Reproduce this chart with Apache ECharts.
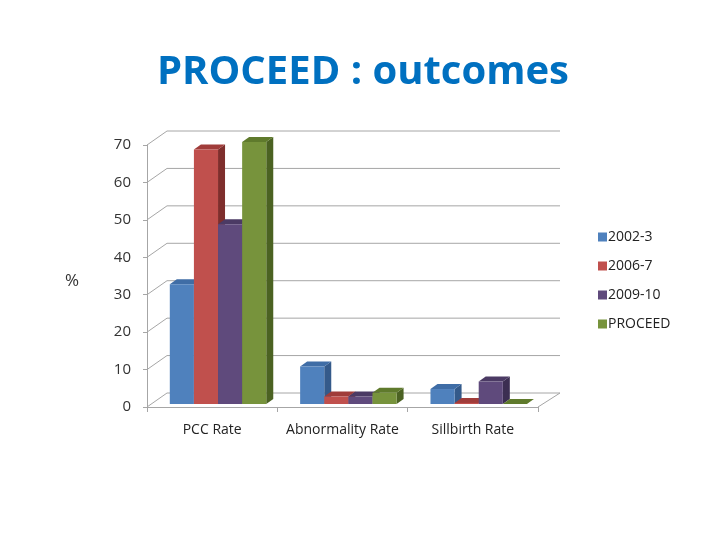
<!DOCTYPE html>
<html>
<head>
<meta charset="utf-8">
<script src="https://cdn.jsdelivr.net/npm/echarts@6/dist/echarts.min.js"></script>
<style>
  html, body { margin: 0; padding: 0; background: #fff; }
  #chart { width: 720px; height: 540px; }
</style>
</head>
<body>
<div id="chart"></div>
<script>
var categories = ['PCC Rate', 'Abnormality Rate', 'Sillbirth Rate'];
var seriesNames = ['2002-3', '2006-7', '2009-10', 'PROCEED'];
var rate2002 = [32, 10, 4];
var rate2006 = [68, 2, 0.3];
var rate2009 = [48, 2, 6];
var rateProceed = [70, 3, 0];
var yTicks = [0, 10, 20, 30, 40, 50, 60, 70];

var frontColors = ['#4F81BD', '#C0504D', '#5F4A7C', '#77933C'];
var topColors = ['#3F6DA6', '#A03C3A', '#4B3A64', '#5F7A2C'];
var sideColors = ['#345A8A', '#7E2E2C', '#3C2E52', '#4B6222'];

// depth of the back wall and of a bar
var wallDx = 20, wallDy = 14;
var barDx = 7, barDy = 5;
var barLift = 3;

var chart = echarts.init(document.getElementById('chart'));

function wallItem(params, api) {
    var cs = params.coordSys;
    var y = api.coord([0, api.value(0)])[1];
    var left = cs.x, right = cs.x + cs.width;
    return {
        type: 'polyline',
        shape: { points: [[left, y], [left + wallDx, y - wallDy], [right + wallDx + 2, y - wallDy]] },
        style: { stroke: '#a6a6a6', lineWidth: 1, fill: null },
        silent: true
    };
}

function floorItem(params, api) {
    var cs = params.coordSys;
    var y = api.coord([0, 0])[1];
    var right = cs.x + cs.width;
    return {
        type: 'line',
        shape: { x1: right, y1: y, x2: right + wallDx + 2, y2: y - wallDy },
        style: { stroke: '#a6a6a6', lineWidth: 1 },
        silent: true
    };
}

function makeBarRender(idx) {
    return function (params, api) {
        var cat = api.value(0);
        var val = api.value(1);
        var top = api.coord([cat, val]);
        var base = api.coord([cat, 0]);
        var band = api.size([1, 0])[0];
        var bw = band * 0.185;
        var x = top[0] - 2 * bw + idx * bw + band * 0.045;
        var yt = top[1] - barLift, yb = base[1] - barLift;
        return {
            type: 'group',
            children: [
                {
                    type: 'polygon',
                    shape: { points: [[x + bw, yt], [x + bw + barDx, yt - barDy], [x + bw + barDx, yb - barDy], [x + bw, yb]] },
                    style: { fill: sideColors[idx] }
                },
                {
                    type: 'polygon',
                    shape: { points: [[x, yt], [x + barDx, yt - barDy], [x + bw + barDx, yt - barDy], [x + bw, yt]] },
                    style: { fill: topColors[idx] }
                },
                {
                    type: 'rect',
                    shape: { x: x, y: yt, width: bw, height: yb - yt },
                    style: { fill: frontColors[idx] }
                }
            ]
        };
    };
}

var allValues = [rate2002, rate2006, rate2009, rateProceed];
var series = [
    {
        type: 'custom',
        name: 'wall',
        renderItem: wallItem,
        data: yTicks.map(function (v) { return [v]; }),
        encode: { y: 0 },
        z: 1,
        silent: true
    },
    {
        type: 'custom',
        name: 'floor',
        renderItem: floorItem,
        data: [[0]],
        z: 1,
        silent: true
    }
];
seriesNames.forEach(function (name, i) {
    series.push({
        type: 'custom',
        name: name,
        renderItem: makeBarRender(i),
        itemStyle: { color: frontColors[i] },
        data: allValues[i].map(function (v, k) { return [k, v]; }),
        encode: { x: 0, y: 1 },
        z: 5
    });
});

var option = {
    backgroundColor: '#ffffff',
    animation: false,
    title: {
        text: 'PROCEED : outcomes',
        left: 152,
        top: 48,
        textStyle: {
            fontFamily: 'Open Sans',
            fontWeight: 'bold',
            fontSize: 40,
            color: '#0070C0'
        }
    },
    legend: {
        orient: 'vertical',
        left: 593,
        top: 225,
        itemGap: 15,
        itemWidth: 9,
        itemHeight: 9,
        icon: 'rect',
        data: seriesNames,
        textStyle: { fontFamily: 'Open Sans', fontSize: 14, color: '#222', padding: [0, 0, 0, -4] }
    },
    graphic: [
        {
            type: 'text',
            left: 65,
            top: 273,
            style: { text: '%', fontFamily: 'Open Sans', fontSize: 17, fill: '#333' }
        }
    ],
    grid: {
        left: 147,
        right: 182,
        top: 145,
        bottom: 133
    },
    xAxis: {
        type: 'category',
        data: categories,
        axisLine: { lineStyle: { color: '#a6a6a6' } },
        axisTick: { show: true, length: 5, inside: false, lineStyle: { color: '#a6a6a6' } },
        axisLabel: { interval: 0, margin: 16, fontFamily: 'Open Sans', fontSize: 14, color: '#222' }
    },
    yAxis: {
        type: 'value',
        min: 0,
        max: 70,
        interval: 10,
        axisLine: { show: true, lineStyle: { color: '#a6a6a6' } },
        axisTick: { show: true, length: 4, lineStyle: { color: '#a6a6a6' } },
        axisLabel: { margin: 16, fontFamily: 'Open Sans', fontSize: 15, color: '#333' },
        splitLine: { show: false }
    },
    series: series
};
chart.setOption(option);
</script>
</body>
</html>
